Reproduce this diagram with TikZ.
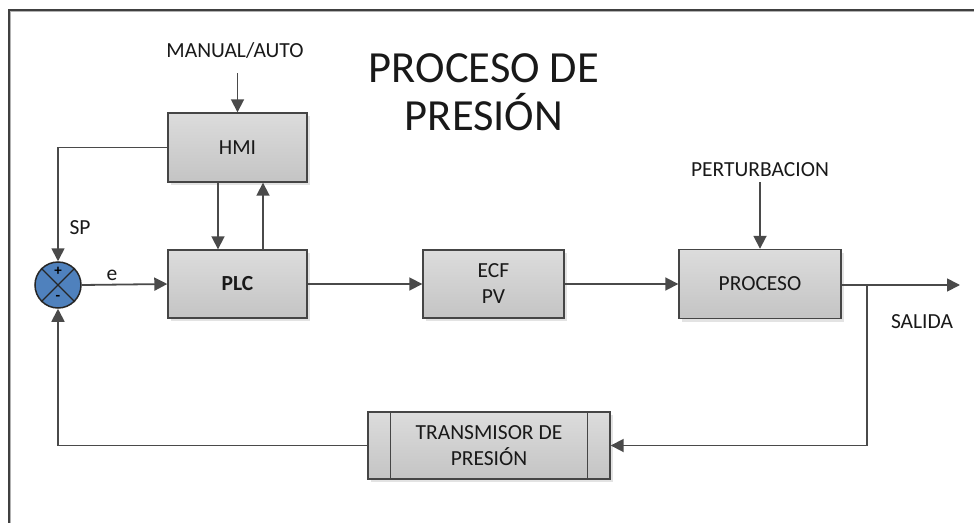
\documentclass[tikz,border=0pt]{standalone}
\usepackage{fontspec}
\setmainfont{Carlito}
\usetikzlibrary{arrows.meta,shadows}
\definecolor{ln}{HTML}{4A4A4A}
\definecolor{edge}{HTML}{454545}
\definecolor{boxtop}{HTML}{DCDCDC}
\definecolor{boxbot}{HTML}{C4C4C4}
\definecolor{sumblue}{HTML}{4F81BD}
\tikzset{
  blk/.style={draw=edge, line width=1.4pt, top color=boxtop, bottom color=boxbot,
    drop shadow={shadow xshift=3pt, shadow yshift=-3pt, fill=black!22},
    font=\fontsize{21.5}{24}\selectfont, text=black!90, align=center, inner sep=0pt},
  lbl/.style={font=\fontsize{21.5}{24}\selectfont, text=black!90, inner sep=0pt},
  wire/.style={draw=ln, line width=1.8pt},
  arr/.style={wire, -{Triangle[length=13pt,width=13pt]}},
}
\begin{document}
\begin{tikzpicture}[x=1pt,y=-1pt]
\useasboundingbox (0,0) rectangle (974,522);
% outer frame
\draw[draw=black!30, line width=2pt] (10,524) -- (10,11) -- (976,11);
\draw[draw=black!75, line width=1.6pt] (9,524) -- (9,10) -- (976,10);

% title
\node[font=\fontsize{44.5}{48}\selectfont, align=center, text=black!90] (title) at (484,92)
  {PROCESO DE\\PRESIÓN};

% blocks
\node[blk, minimum width=139pt, minimum height=69pt] (hmi) at (237.5,147.5) {HMI};
\node[blk, minimum width=139pt, minimum height=68pt, font=\fontsize{21.5}{24}\selectfont\bfseries] (plc) at (237.5,284) {PLC};
\node[blk, minimum width=141pt, minimum height=68pt] (ecf) at (493.5,284) {ECF\\[2pt]PV};
\node[blk, minimum width=162pt, minimum height=69pt] (proc) at (760,284) {PROCESO};
\node[blk, minimum width=242pt, minimum height=67pt] (trans) at (489,445.5) {TRANSMISOR DE\\[2pt]PRESIÓN};
\draw[edge, line width=1.4pt] ([xshift=23pt]trans.north west) -- ([xshift=23pt]trans.south west);
\draw[edge, line width=1.4pt] ([xshift=-23pt]trans.north east) -- ([xshift=-23pt]trans.south east);

% summing junction
\node[circle, draw=black!85, line width=1.5pt, fill=sumblue, minimum size=46pt, inner sep=0pt] (sum) at (58,285) {};
\draw[black!85, line width=1.4pt] (sum.north west) -- (sum.south east);
\draw[black!85, line width=1.4pt] (sum.north east) -- (sum.south west);
\node[font=\fontsize{15}{15}\selectfont\bfseries, inner sep=0pt] (plus) at (58,271) {+};
\node[font=\fontsize{15}{15}\selectfont\bfseries, inner sep=0pt] (minus) at (58,298) {-};

% labels
\node[lbl] (man) at (235,50) {MANUAL/AUTO};
\node[lbl] (pert) at (760,170) {PERTURBACION};
\node[lbl] (sp) at (80,228) {SP};
\node[lbl] (e) at (112,275) {e};
\node[lbl] (sal) at (922,322) {SALIDA};

\coordinate (manin) at (237.5,73);
\coordinate (pertin) at (760,182);
\coordinate (out) at (960,285);
\coordinate (tap) at (867,285);

% connectors
\draw[arr] (manin) -- (hmi.north);
\draw[arr] (hmi.west) -| (sum.north);
\draw[arr] ([xshift=-19.5pt]hmi.south) -- ([xshift=-19.5pt]plc.north);
\draw[arr] ([xshift=25.5pt]plc.north) -- ([xshift=25.5pt]hmi.south);
\draw[arr] (sum.east) -- (plc.west);
\draw[arr] (plc.east) -- (ecf.west);
\draw[arr] (ecf.east) -- (proc.west);
\draw[arr] (pertin) -- (proc.north);
\draw[arr] (proc.east |- out) -- (out);
\draw[arr] (tap) |- (trans.east);
\draw[arr] (trans.west) -| (sum.south);
\end{tikzpicture}
\end{document}
